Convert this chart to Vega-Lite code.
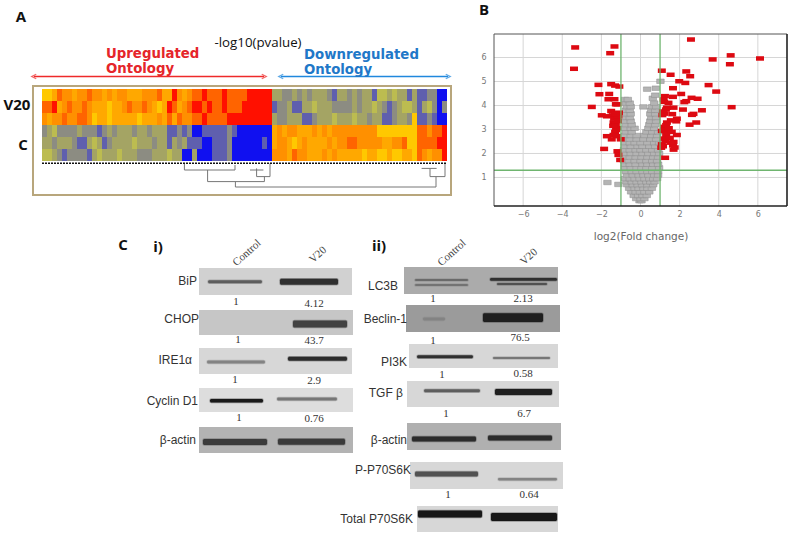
{"$schema":"https://vega.github.io/schema/vega-lite/v6.json","width":800,"height":540,"padding":0,"autosize":{"type":"none"},"background":"white","config":{"view":{"stroke":null}},
"resolve":{"scale":{"x":"independent","y":"independent","color":"independent","stroke":"independent","shape":"independent"},"axis":{"x":"independent","y":"independent"}},
"datasets":{
"heat":[
{"c":0,"r":0,"v":5},{"c":1,"r":0,"v":5},{"c":2,"r":0,"v":6},{"c":3,"r":0,"v":8},{"c":4,"r":0,"v":7},{"c":5,"r":0,"v":7},{"c":6,"r":0,"v":6},{"c":7,"r":0,"v":7},{"c":8,"r":0,"v":7},{"c":9,"r":0,"v":8},{"c":10,"r":0,"v":7},{"c":11,"r":0,"v":7},{"c":12,"r":0,"v":6},{"c":13,"r":0,"v":7},{"c":14,"r":0,"v":6},{"c":15,"r":0,"v":7},{"c":16,"r":0,"v":7},{"c":17,"r":0,"v":6},{"c":18,"r":0,"v":6},{"c":19,"r":0,"v":6},{"c":20,"r":0,"v":7},{"c":21,"r":0,"v":7},{"c":22,"r":0,"v":7},{"c":23,"r":0,"v":8},{"c":24,"r":0,"v":6},{"c":25,"r":0,"v":6},{"c":26,"r":0,"v":9},{"c":27,"r":0,"v":7},{"c":28,"r":0,"v":6},{"c":29,"r":0,"v":7},{"c":30,"r":0,"v":8},{"c":31,"r":0,"v":8},{"c":32,"r":0,"v":9},{"c":33,"r":0,"v":8},{"c":34,"r":0,"v":8},{"c":35,"r":0,"v":8},{"c":36,"r":0,"v":9},{"c":37,"r":0,"v":8},{"c":38,"r":0,"v":8},{"c":39,"r":0,"v":8},{"c":40,"r":0,"v":8},{"c":41,"r":0,"v":9},{"c":42,"r":0,"v":9},{"c":43,"r":0,"v":9},{"c":44,"r":0,"v":9},{"c":45,"r":0,"v":9},{"c":46,"r":0,"v":3},{"c":47,"r":0,"v":3},{"c":48,"r":0,"v":2},{"c":49,"r":0,"v":2},{"c":50,"r":0,"v":3},{"c":51,"r":0,"v":2},{"c":52,"r":0,"v":3},{"c":53,"r":0,"v":2},{"c":54,"r":0,"v":3},{"c":55,"r":0,"v":3},{"c":56,"r":0,"v":3},{"c":57,"r":0,"v":2},{"c":58,"r":0,"v":1},{"c":59,"r":0,"v":3},{"c":60,"r":0,"v":3},{"c":61,"r":0,"v":2},{"c":62,"r":0,"v":3},{"c":63,"r":0,"v":2},{"c":64,"r":0,"v":3},{"c":65,"r":0,"v":3},{"c":66,"r":0,"v":1},{"c":67,"r":0,"v":4},{"c":68,"r":0,"v":4},{"c":69,"r":0,"v":3},{"c":70,"r":0,"v":4},{"c":71,"r":0,"v":3},{"c":72,"r":0,"v":3},{"c":73,"r":0,"v":1},{"c":74,"r":0,"v":3},{"c":75,"r":0,"v":1},{"c":76,"r":0,"v":1},{"c":77,"r":0,"v":2},{"c":78,"r":0,"v":2},{"c":79,"r":0,"v":0},{"c":80,"r":0,"v":0},
{"c":0,"r":1,"v":8},{"c":1,"r":1,"v":8},{"c":2,"r":1,"v":9},{"c":3,"r":1,"v":6},{"c":4,"r":1,"v":7},{"c":5,"r":1,"v":8},{"c":6,"r":1,"v":7},{"c":7,"r":1,"v":7},{"c":8,"r":1,"v":8},{"c":9,"r":1,"v":7},{"c":10,"r":1,"v":6},{"c":11,"r":1,"v":6},{"c":12,"r":1,"v":6},{"c":13,"r":1,"v":5},{"c":14,"r":1,"v":6},{"c":15,"r":1,"v":6},{"c":16,"r":1,"v":7},{"c":17,"r":1,"v":8},{"c":18,"r":1,"v":7},{"c":19,"r":1,"v":7},{"c":20,"r":1,"v":8},{"c":21,"r":1,"v":7},{"c":22,"r":1,"v":6},{"c":23,"r":1,"v":5},{"c":24,"r":1,"v":6},{"c":25,"r":1,"v":9},{"c":26,"r":1,"v":8},{"c":27,"r":1,"v":6},{"c":28,"r":1,"v":7},{"c":29,"r":1,"v":8},{"c":30,"r":1,"v":9},{"c":31,"r":1,"v":9},{"c":32,"r":1,"v":8},{"c":33,"r":1,"v":9},{"c":34,"r":1,"v":8},{"c":35,"r":1,"v":8},{"c":36,"r":1,"v":9},{"c":37,"r":1,"v":8},{"c":38,"r":1,"v":8},{"c":39,"r":1,"v":8},{"c":40,"r":1,"v":9},{"c":41,"r":1,"v":9},{"c":42,"r":1,"v":9},{"c":43,"r":1,"v":9},{"c":44,"r":1,"v":9},{"c":45,"r":1,"v":9},{"c":46,"r":1,"v":1},{"c":47,"r":1,"v":2},{"c":48,"r":1,"v":2},{"c":49,"r":1,"v":3},{"c":50,"r":1,"v":1},{"c":51,"r":1,"v":1},{"c":52,"r":1,"v":3},{"c":53,"r":1,"v":3},{"c":54,"r":1,"v":4},{"c":55,"r":1,"v":3},{"c":56,"r":1,"v":3},{"c":57,"r":1,"v":3},{"c":58,"r":1,"v":2},{"c":59,"r":1,"v":2},{"c":60,"r":1,"v":2},{"c":61,"r":1,"v":2},{"c":62,"r":1,"v":3},{"c":63,"r":1,"v":2},{"c":64,"r":1,"v":3},{"c":65,"r":1,"v":3},{"c":66,"r":1,"v":4},{"c":67,"r":1,"v":3},{"c":68,"r":1,"v":2},{"c":69,"r":1,"v":1},{"c":70,"r":1,"v":2},{"c":71,"r":1,"v":3},{"c":72,"r":1,"v":4},{"c":73,"r":1,"v":4},{"c":74,"r":1,"v":3},{"c":75,"r":1,"v":1},{"c":76,"r":1,"v":3},{"c":77,"r":1,"v":4},{"c":78,"r":1,"v":2},{"c":79,"r":1,"v":0},{"c":80,"r":1,"v":2},
{"c":0,"r":2,"v":7},{"c":1,"r":2,"v":6},{"c":2,"r":2,"v":7},{"c":3,"r":2,"v":7},{"c":4,"r":2,"v":8},{"c":5,"r":2,"v":7},{"c":6,"r":2,"v":7},{"c":7,"r":2,"v":8},{"c":8,"r":2,"v":8},{"c":9,"r":2,"v":7},{"c":10,"r":2,"v":5},{"c":11,"r":2,"v":6},{"c":12,"r":2,"v":6},{"c":13,"r":2,"v":5},{"c":14,"r":2,"v":6},{"c":15,"r":2,"v":6},{"c":16,"r":2,"v":6},{"c":17,"r":2,"v":6},{"c":18,"r":2,"v":6},{"c":19,"r":2,"v":5},{"c":20,"r":2,"v":6},{"c":21,"r":2,"v":6},{"c":22,"r":2,"v":6},{"c":23,"r":2,"v":7},{"c":24,"r":2,"v":6},{"c":25,"r":2,"v":8},{"c":26,"r":2,"v":6},{"c":27,"r":2,"v":8},{"c":28,"r":2,"v":7},{"c":29,"r":2,"v":7},{"c":30,"r":2,"v":8},{"c":31,"r":2,"v":8},{"c":32,"r":2,"v":9},{"c":33,"r":2,"v":8},{"c":34,"r":2,"v":8},{"c":35,"r":2,"v":8},{"c":36,"r":2,"v":8},{"c":37,"r":2,"v":9},{"c":38,"r":2,"v":9},{"c":39,"r":2,"v":9},{"c":40,"r":2,"v":9},{"c":41,"r":2,"v":9},{"c":42,"r":2,"v":9},{"c":43,"r":2,"v":9},{"c":44,"r":2,"v":9},{"c":45,"r":2,"v":9},{"c":46,"r":2,"v":3},{"c":47,"r":2,"v":2},{"c":48,"r":2,"v":2},{"c":49,"r":2,"v":3},{"c":50,"r":2,"v":3},{"c":51,"r":2,"v":3},{"c":52,"r":2,"v":1},{"c":53,"r":2,"v":1},{"c":54,"r":2,"v":2},{"c":55,"r":2,"v":3},{"c":56,"r":2,"v":3},{"c":57,"r":2,"v":3},{"c":58,"r":2,"v":4},{"c":59,"r":2,"v":3},{"c":60,"r":2,"v":3},{"c":61,"r":2,"v":3},{"c":62,"r":2,"v":4},{"c":63,"r":2,"v":3},{"c":64,"r":2,"v":3},{"c":65,"r":2,"v":2},{"c":66,"r":2,"v":3},{"c":67,"r":2,"v":3},{"c":68,"r":2,"v":1},{"c":69,"r":2,"v":1},{"c":70,"r":2,"v":2},{"c":71,"r":2,"v":3},{"c":72,"r":2,"v":3},{"c":73,"r":2,"v":2},{"c":74,"r":2,"v":5},{"c":75,"r":2,"v":1},{"c":76,"r":2,"v":1},{"c":77,"r":2,"v":2},{"c":78,"r":2,"v":1},{"c":79,"r":2,"v":0},{"c":80,"r":2,"v":0},
{"c":0,"r":3,"v":2},{"c":1,"r":3,"v":3},{"c":2,"r":3,"v":4},{"c":3,"r":3,"v":2},{"c":4,"r":3,"v":2},{"c":5,"r":3,"v":2},{"c":6,"r":3,"v":2},{"c":7,"r":3,"v":3},{"c":8,"r":3,"v":2},{"c":9,"r":3,"v":2},{"c":10,"r":3,"v":2},{"c":11,"r":3,"v":1},{"c":12,"r":3,"v":2},{"c":13,"r":3,"v":3},{"c":14,"r":3,"v":2},{"c":15,"r":3,"v":3},{"c":16,"r":3,"v":3},{"c":17,"r":3,"v":3},{"c":18,"r":3,"v":2},{"c":19,"r":3,"v":3},{"c":20,"r":3,"v":3},{"c":21,"r":3,"v":2},{"c":22,"r":3,"v":3},{"c":23,"r":3,"v":3},{"c":24,"r":3,"v":3},{"c":25,"r":3,"v":1},{"c":26,"r":3,"v":1},{"c":27,"r":3,"v":2},{"c":28,"r":3,"v":1},{"c":29,"r":3,"v":2},{"c":30,"r":3,"v":0},{"c":31,"r":3,"v":0},{"c":32,"r":3,"v":1},{"c":33,"r":3,"v":1},{"c":34,"r":3,"v":1},{"c":35,"r":3,"v":1},{"c":36,"r":3,"v":1},{"c":37,"r":3,"v":2},{"c":38,"r":3,"v":1},{"c":39,"r":3,"v":0},{"c":40,"r":3,"v":0},{"c":41,"r":3,"v":0},{"c":42,"r":3,"v":0},{"c":43,"r":3,"v":0},{"c":44,"r":3,"v":0},{"c":45,"r":3,"v":0},{"c":46,"r":3,"v":6},{"c":47,"r":3,"v":7},{"c":48,"r":3,"v":6},{"c":49,"r":3,"v":7},{"c":50,"r":3,"v":7},{"c":51,"r":3,"v":6},{"c":52,"r":3,"v":6},{"c":53,"r":3,"v":6},{"c":54,"r":3,"v":7},{"c":55,"r":3,"v":6},{"c":56,"r":3,"v":7},{"c":57,"r":3,"v":6},{"c":58,"r":3,"v":7},{"c":59,"r":3,"v":7},{"c":60,"r":3,"v":7},{"c":61,"r":3,"v":7},{"c":62,"r":3,"v":7},{"c":63,"r":3,"v":7},{"c":64,"r":3,"v":7},{"c":65,"r":3,"v":7},{"c":66,"r":3,"v":7},{"c":67,"r":3,"v":5},{"c":68,"r":3,"v":5},{"c":69,"r":3,"v":5},{"c":70,"r":3,"v":5},{"c":71,"r":3,"v":5},{"c":72,"r":3,"v":5},{"c":73,"r":3,"v":5},{"c":74,"r":3,"v":5},{"c":75,"r":3,"v":8},{"c":76,"r":3,"v":8},{"c":77,"r":3,"v":7},{"c":78,"r":3,"v":8},{"c":79,"r":3,"v":8},{"c":80,"r":3,"v":9},
{"c":0,"r":4,"v":3},{"c":1,"r":4,"v":3},{"c":2,"r":4,"v":2},{"c":3,"r":4,"v":3},{"c":4,"r":4,"v":3},{"c":5,"r":4,"v":3},{"c":6,"r":4,"v":2},{"c":7,"r":4,"v":1},{"c":8,"r":4,"v":1},{"c":9,"r":4,"v":3},{"c":10,"r":4,"v":4},{"c":11,"r":4,"v":3},{"c":12,"r":4,"v":1},{"c":13,"r":4,"v":2},{"c":14,"r":4,"v":3},{"c":15,"r":4,"v":3},{"c":16,"r":4,"v":3},{"c":17,"r":4,"v":3},{"c":18,"r":4,"v":4},{"c":19,"r":4,"v":3},{"c":20,"r":4,"v":3},{"c":21,"r":4,"v":3},{"c":22,"r":4,"v":2},{"c":23,"r":4,"v":3},{"c":24,"r":4,"v":3},{"c":25,"r":4,"v":1},{"c":26,"r":4,"v":3},{"c":27,"r":4,"v":2},{"c":28,"r":4,"v":3},{"c":29,"r":4,"v":1},{"c":30,"r":4,"v":1},{"c":31,"r":4,"v":1},{"c":32,"r":4,"v":0},{"c":33,"r":4,"v":0},{"c":34,"r":4,"v":1},{"c":35,"r":4,"v":1},{"c":36,"r":4,"v":1},{"c":37,"r":4,"v":2},{"c":38,"r":4,"v":0},{"c":39,"r":4,"v":0},{"c":40,"r":4,"v":0},{"c":41,"r":4,"v":0},{"c":42,"r":4,"v":0},{"c":43,"r":4,"v":0},{"c":44,"r":4,"v":1},{"c":45,"r":4,"v":0},{"c":46,"r":4,"v":6},{"c":47,"r":4,"v":7},{"c":48,"r":4,"v":7},{"c":49,"r":4,"v":6},{"c":50,"r":4,"v":5},{"c":51,"r":4,"v":6},{"c":52,"r":4,"v":7},{"c":53,"r":4,"v":6},{"c":54,"r":4,"v":6},{"c":55,"r":4,"v":6},{"c":56,"r":4,"v":6},{"c":57,"r":4,"v":7},{"c":58,"r":4,"v":6},{"c":59,"r":4,"v":7},{"c":60,"r":4,"v":7},{"c":61,"r":4,"v":8},{"c":62,"r":4,"v":8},{"c":63,"r":4,"v":7},{"c":64,"r":4,"v":7},{"c":65,"r":4,"v":7},{"c":66,"r":4,"v":7},{"c":67,"r":4,"v":7},{"c":68,"r":4,"v":6},{"c":69,"r":4,"v":6},{"c":70,"r":4,"v":7},{"c":71,"r":4,"v":7},{"c":72,"r":4,"v":8},{"c":73,"r":4,"v":5},{"c":74,"r":4,"v":5},{"c":75,"r":4,"v":8},{"c":76,"r":4,"v":8},{"c":77,"r":4,"v":8},{"c":78,"r":4,"v":8},{"c":79,"r":4,"v":9},{"c":80,"r":4,"v":9},
{"c":0,"r":5,"v":4},{"c":1,"r":5,"v":4},{"c":2,"r":5,"v":3},{"c":3,"r":5,"v":2},{"c":4,"r":5,"v":1},{"c":5,"r":5,"v":2},{"c":6,"r":5,"v":2},{"c":7,"r":5,"v":2},{"c":8,"r":5,"v":2},{"c":9,"r":5,"v":1},{"c":10,"r":5,"v":3},{"c":11,"r":5,"v":4},{"c":12,"r":5,"v":3},{"c":13,"r":5,"v":3},{"c":14,"r":5,"v":3},{"c":15,"r":5,"v":4},{"c":16,"r":5,"v":3},{"c":17,"r":5,"v":3},{"c":18,"r":5,"v":3},{"c":19,"r":5,"v":2},{"c":20,"r":5,"v":2},{"c":21,"r":5,"v":2},{"c":22,"r":5,"v":3},{"c":23,"r":5,"v":3},{"c":24,"r":5,"v":3},{"c":25,"r":5,"v":4},{"c":26,"r":5,"v":3},{"c":27,"r":5,"v":3},{"c":28,"r":5,"v":0},{"c":29,"r":5,"v":0},{"c":30,"r":5,"v":3},{"c":31,"r":5,"v":0},{"c":32,"r":5,"v":0},{"c":33,"r":5,"v":0},{"c":34,"r":5,"v":1},{"c":35,"r":5,"v":1},{"c":36,"r":5,"v":1},{"c":37,"r":5,"v":2},{"c":38,"r":5,"v":0},{"c":39,"r":5,"v":0},{"c":40,"r":5,"v":0},{"c":41,"r":5,"v":0},{"c":42,"r":5,"v":0},{"c":43,"r":5,"v":0},{"c":44,"r":5,"v":0},{"c":45,"r":5,"v":0},{"c":46,"r":5,"v":7},{"c":47,"r":5,"v":7},{"c":48,"r":5,"v":7},{"c":49,"r":5,"v":6},{"c":50,"r":5,"v":8},{"c":51,"r":5,"v":7},{"c":52,"r":5,"v":7},{"c":53,"r":5,"v":6},{"c":54,"r":5,"v":6},{"c":55,"r":5,"v":6},{"c":56,"r":5,"v":7},{"c":57,"r":5,"v":6},{"c":58,"r":5,"v":7},{"c":59,"r":5,"v":6},{"c":60,"r":5,"v":6},{"c":61,"r":5,"v":6},{"c":62,"r":5,"v":6},{"c":63,"r":5,"v":6},{"c":64,"r":5,"v":5},{"c":65,"r":5,"v":6},{"c":66,"r":5,"v":6},{"c":67,"r":5,"v":5},{"c":68,"r":5,"v":5},{"c":69,"r":5,"v":6},{"c":70,"r":5,"v":5},{"c":71,"r":5,"v":5},{"c":72,"r":5,"v":6},{"c":73,"r":5,"v":6},{"c":74,"r":5,"v":5},{"c":75,"r":5,"v":8},{"c":76,"r":5,"v":7},{"c":77,"r":5,"v":6},{"c":78,"r":5,"v":7},{"c":79,"r":5,"v":7},{"c":80,"r":5,"v":9}
],
"grey":[{"x":-0.05,"y":0.03},{"x":0.05,"y":0.03},{"x":-0.22,"y":0.12},{"x":0,"y":0.12},{"x":0.2,"y":0.12},{"x":-0.35,"y":0.25},{"x":-0.12,"y":0.25},{"x":0.1,"y":0.25},{"x":0.32,"y":0.25},{"x":-0.48,"y":0.4},{"x":-0.25,"y":0.4},{"x":-0.03,"y":0.4},{"x":0.2,"y":0.4},{"x":0.45,"y":0.4},{"x":-0.58,"y":0.55},{"x":-0.3,"y":0.55},{"x":-0.1,"y":0.55},{"x":0.15,"y":0.55},{"x":0.35,"y":0.55},{"x":0.58,"y":0.55},{"x":-0.68,"y":0.7},{"x":-0.4,"y":0.7},{"x":-0.15,"y":0.7},{"x":0.08,"y":0.7},{"x":0.35,"y":0.7},{"x":0.65,"y":0.7},{"x":-1.13,"y":0.71},{"x":-0.72,"y":0.82},{"x":-0.45,"y":0.82},{"x":-0.2,"y":0.82},{"x":0.05,"y":0.82},{"x":0.3,"y":0.82},{"x":0.5,"y":0.82},{"x":0.72,"y":0.82},{"x":-1.69,"y":0.79},{"x":-0.8,"y":0.95},{"x":-0.55,"y":0.95},{"x":-0.3,"y":0.95},{"x":-0.05,"y":0.95},{"x":0.2,"y":0.95},{"x":0.45,"y":0.95},{"x":0.65,"y":0.95},{"x":0.85,"y":0.95},{"x":-0.7,"y":1.1},{"x":-0.4,"y":1.1},{"x":-0.1,"y":1.1},{"x":0.15,"y":1.1},{"x":0.4,"y":1.1},{"x":0.7,"y":1.1},{"x":0.9,"y":1.1},{"x":-0.75,"y":1.25},{"x":-0.45,"y":1.25},{"x":-0.2,"y":1.25},{"x":0.1,"y":1.25},{"x":0.35,"y":1.25},{"x":0.6,"y":1.25},{"x":0.9,"y":1.25},{"x":-0.8,"y":1.4},{"x":-0.5,"y":1.4},{"x":-0.2,"y":1.4},{"x":0.05,"y":1.4},{"x":0.3,"y":1.4},{"x":0.6,"y":1.4},{"x":0.95,"y":1.4},{"x":-0.8,"y":1.55},{"x":-0.55,"y":1.55},{"x":-0.25,"y":1.55},{"x":0.1,"y":1.55},{"x":0.35,"y":1.55},{"x":0.65,"y":1.55},{"x":0.9,"y":1.55},{"x":-0.85,"y":1.7},{"x":-0.6,"y":1.7},{"x":-0.3,"y":1.7},{"x":0,"y":1.7},{"x":0.3,"y":1.7},{"x":0.6,"y":1.7},{"x":0.85,"y":1.7},{"x":-0.85,"y":1.85},{"x":-0.55,"y":1.85},{"x":-0.25,"y":1.85},{"x":0.05,"y":1.85},{"x":0.35,"y":1.85},{"x":0.65,"y":1.85},{"x":0.9,"y":1.85},{"x":-0.8,"y":2},{"x":-0.5,"y":2},{"x":-0.2,"y":2},{"x":0.1,"y":2},{"x":0.4,"y":2},{"x":0.7,"y":2},{"x":0.95,"y":2},{"x":-0.85,"y":2.15},{"x":-0.55,"y":2.15},{"x":-0.25,"y":2.15},{"x":0,"y":2.15},{"x":0.3,"y":2.15},{"x":0.6,"y":2.15},{"x":0.9,"y":2.15},{"x":-0.8,"y":2.3},{"x":-0.5,"y":2.3},{"x":-0.15,"y":2.3},{"x":0.1,"y":2.3},{"x":0.45,"y":2.3},{"x":0.75,"y":2.3},{"x":-0.8,"y":2.45},{"x":-0.55,"y":2.45},{"x":-0.3,"y":2.45},{"x":0,"y":2.45},{"x":0.35,"y":2.45},{"x":0.7,"y":2.45},{"x":0.95,"y":2.45},{"x":-0.85,"y":2.6},{"x":-0.55,"y":2.6},{"x":-0.2,"y":2.6},{"x":0.15,"y":2.6},{"x":0.5,"y":2.6},{"x":0.8,"y":2.6},{"x":-0.8,"y":2.75},{"x":-0.5,"y":2.75},{"x":-0.2,"y":2.75},{"x":0.2,"y":2.75},{"x":0.55,"y":2.75},{"x":0.85,"y":2.75},{"x":-0.75,"y":2.9},{"x":-0.45,"y":2.9},{"x":0.3,"y":2.9},{"x":0.6,"y":2.9},{"x":0.9,"y":2.9},{"x":-0.8,"y":3.05},{"x":-0.5,"y":3.05},{"x":-0.3,"y":3.05},{"x":0.4,"y":3.05},{"x":0.7,"y":3.05},{"x":-0.75,"y":3.2},{"x":-0.45,"y":3.2},{"x":0.45,"y":3.2},{"x":0.75,"y":3.2},{"x":-0.8,"y":3.35},{"x":-0.5,"y":3.35},{"x":0.5,"y":3.35},{"x":0.8,"y":3.35},{"x":-0.8,"y":3.5},{"x":-0.55,"y":3.5},{"x":0.55,"y":3.5},{"x":0.8,"y":3.5},{"x":-0.75,"y":3.65},{"x":-0.5,"y":3.65},{"x":0.5,"y":3.65},{"x":0.75,"y":3.65},{"x":-0.75,"y":3.8},{"x":-0.55,"y":3.8},{"x":0.55,"y":3.8},{"x":0.75,"y":3.8},{"x":-0.7,"y":3.95},{"x":-0.5,"y":3.95},{"x":0.15,"y":3.94},{"x":0.6,"y":3.95},{"x":0.8,"y":3.95},{"x":-0.75,"y":4.1},{"x":-0.55,"y":4.1},{"x":0.7,"y":4.1},{"x":-0.8,"y":4.25},{"x":-0.65,"y":4.25},{"x":0.63,"y":4.3},{"x":1.02,"y":5.01},{"x":0.34,"y":4.68},{"x":0.78,"y":4.72},{"x":0.75,"y":4.43}],
"red":[{"x":2.58,"y":6.75},{"x":-3.34,"y":6.42},{"x":-1.33,"y":6.46},{"x":-1.55,"y":6.18},{"x":-3.4,"y":5.53},{"x":4.61,"y":6.09},{"x":3.69,"y":5.92},{"x":4.57,"y":5.72},{"x":6.11,"y":5.96},{"x":1.09,"y":5.45},{"x":1.54,"y":5.28},{"x":2.34,"y":5.42},{"x":2.54,"y":5.22},{"x":1.98,"y":5.01},{"x":2.29,"y":4.94},{"x":3.48,"y":4.85},{"x":1.66,"y":4.72},{"x":3.87,"y":4.58},{"x":2.08,"y":4.48},{"x":2.61,"y":4.32},{"x":2.92,"y":4.28},{"x":2.34,"y":4.18},{"x":2.24,"y":4.14},{"x":4.66,"y":3.93},{"x":3.14,"y":3.8},{"x":2.17,"y":3.83},{"x":2.71,"y":3.65},{"x":2.63,"y":3.61},{"x":2.85,"y":3.29},{"x":2.51,"y":3.2},{"x":1.25,"y":4.39},{"x":1.66,"y":4.36},{"x":1.18,"y":4.25},{"x":1.21,"y":4.15},{"x":1.43,"y":4.11},{"x":1.69,"y":3.91},{"x":1.35,"y":3.91},{"x":1.3,"y":3.83},{"x":1.21,"y":3.66},{"x":1.62,"y":3.64},{"x":1.86,"y":3.45},{"x":1.55,"y":3.38},{"x":1.83,"y":3.34},{"x":1.35,"y":3.29},{"x":1.21,"y":3.11},{"x":1.31,"y":3.18},{"x":1.09,"y":2.94},{"x":1.35,"y":2.9},{"x":1.6,"y":2.9},{"x":1.86,"y":2.77},{"x":1.31,"y":2.76},{"x":1.21,"y":2.62},{"x":1.69,"y":2.48},{"x":1.09,"y":2.38},{"x":1.66,"y":2.34},{"x":1.69,"y":2.16},{"x":1.06,"y":2.24},{"x":1.26,"y":1.82},{"x":1.15,"y":3.75},{"x":1.5,"y":2.65},{"x":1.2,"y":3},{"x":1.45,"y":3.05},{"x":1.12,"y":3.6},{"x":1.28,"y":2.5},{"x":1.15,"y":2.3},{"x":1.55,"y":2.45},{"x":1.75,"y":2.25},{"x":-2.15,"y":4.86},{"x":-1.5,"y":4.89},{"x":-1.3,"y":4.83},{"x":-1.08,"y":4.79},{"x":-2.1,"y":4.47},{"x":-1.6,"y":4.48},{"x":-1.64,"y":4.26},{"x":-1.33,"y":4.26},{"x":-1.26,"y":4.05},{"x":-2.49,"y":3.94},{"x":-1.5,"y":3.77},{"x":-1.98,"y":3.59},{"x":-1.72,"y":3.55},{"x":-1.42,"y":3.59},{"x":-1.13,"y":3.55},{"x":-1.35,"y":3.45},{"x":-1.2,"y":3.5},{"x":-1.38,"y":3.29},{"x":-1.26,"y":3.22},{"x":-1.15,"y":3.35},{"x":-1.2,"y":3.05},{"x":-1.3,"y":2.9},{"x":-1.38,"y":2.77},{"x":-1.72,"y":2.72},{"x":-1.21,"y":2.72},{"x":-1.47,"y":2.59},{"x":-1.01,"y":2.59},{"x":-1.25,"y":2.98},{"x":-1.4,"y":3.15},{"x":-1.1,"y":3.7},{"x":-1.3,"y":3.65},{"x":-1.18,"y":4.05},{"x":-1.86,"y":2.19},{"x":-1.18,"y":2.09},{"x":-1.13,"y":1.94},{"x":-1.04,"y":1.73}],
"vlines":[{"k":"grid","x":-6,"x2":-6,"y":-0.19,"y2":6.98},{"k":"grid","x":-4,"x2":-4,"y":-0.19,"y2":6.98},{"k":"grid","x":-2,"x2":-2,"y":-0.19,"y2":6.98},{"k":"grid","x":0,"x2":0,"y":-0.19,"y2":6.98},{"k":"grid","x":2,"x2":2,"y":-0.19,"y2":6.98},{"k":"grid","x":4,"x2":4,"y":-0.19,"y2":6.98},{"k":"grid","x":6,"x2":6,"y":-0.19,"y2":6.98},{"k":"grid","x":-7.49,"x2":7.49,"y":1,"y2":1},{"k":"grid","x":-7.49,"x2":7.49,"y":2,"y2":2},{"k":"grid","x":-7.49,"x2":7.49,"y":3,"y2":3},{"k":"grid","x":-7.49,"x2":7.49,"y":4,"y2":4},{"k":"grid","x":-7.49,"x2":7.49,"y":5,"y2":5},{"k":"grid","x":-7.49,"x2":7.49,"y":6,"y2":6},{"k":"green","x":-1,"x2":-1,"y":-0.19,"y2":6.98},{"k":"green","x":1,"x2":1,"y":-0.19,"y2":6.98},{"k":"green","x":-7.49,"x2":7.49,"y":1.3,"y2":1.3},{"k":"thin","x":-7.49,"x2":7.49,"y":6.98,"y2":6.98},{"k":"thin","x":-7.49,"x2":-7.49,"y":-0.19,"y2":6.98},{"k":"thick","x":-7.49,"x2":7.49,"y":-0.19,"y2":-0.19},{"k":"thick","x":7.49,"x2":7.49,"y":-0.19,"y2":6.98}],
"blotbg":[{"x":99.5,"x2":176,"y":134,"y2":147.5,"d":0.16},{"x":99.5,"x2":176.5,"y":155,"y2":167.5,"d":0.2},{"x":99.5,"x2":176,"y":174,"y2":187,"d":0.14},{"x":99.5,"x2":176.5,"y":194,"y2":206,"d":0.12},{"x":99.5,"x2":176.5,"y":213.5,"y2":226.5,"d":0.27},{"x":202,"x2":279,"y":133.5,"y2":147,"d":0.3},{"x":203,"x2":280,"y":152.5,"y2":166,"d":0.36},{"x":204.5,"x2":279,"y":172,"y2":184,"d":0.14},{"x":203.5,"x2":279.5,"y":190.5,"y2":203.5,"d":0.14},{"x":203.5,"x2":280.5,"y":211.5,"y2":225,"d":0.28},{"x":205,"x2":281.5,"y":231,"y2":244.5,"d":0.14},{"x":208.5,"x2":279,"y":253,"y2":266,"d":0.14}],
"bands":[{"x":104,"x2":131,"y":140.1,"y2":141.6,"d":0.6},{"x":140,"x2":169,"y":139.4,"y2":142.4,"d":0.8},{"x":146.5,"x2":173.5,"y":160.2,"y2":163.8,"d":0.72},{"x":103.5,"x2":132.5,"y":180.2,"y2":181.7,"d":0.45},{"x":144,"x2":173.5,"y":178.4,"y2":180.4,"d":0.82},{"x":105,"x2":131.5,"y":199.5,"y2":201.2,"d":0.9},{"x":138.5,"x2":168.5,"y":198.7,"y2":200.2,"d":0.5},{"x":101.5,"x2":133.5,"y":219.5,"y2":222.5,"d":0.75},{"x":139,"x2":172.5,"y":219.4,"y2":222.4,"d":0.75},{"x":207.5,"x2":234,"y":139.6,"y2":140.4,"d":0.6},{"x":207.5,"x2":234,"y":142.1,"y2":142.9,"d":0.55},{"x":245,"x2":278.5,"y":139,"y2":140.4,"d":0.8},{"x":248.5,"x2":273.5,"y":141.5,"y2":142.5,"d":0.65},{"x":211.5,"x2":222.5,"y":158.8,"y2":160.2,"d":0.45},{"x":241.5,"x2":271.5,"y":156.6,"y2":161,"d":0.88},{"x":208.5,"x2":236.5,"y":177.6,"y2":179.1,"d":0.8},{"x":246.5,"x2":275,"y":178.5,"y2":179.5,"d":0.5},{"x":212,"x2":240,"y":194.6,"y2":196.1,"d":0.6},{"x":247.5,"x2":276,"y":194.5,"y2":197.5,"d":0.88},{"x":206,"x2":238,"y":218.3,"y2":220.8,"d":0.82},{"x":244,"x2":276,"y":217.8,"y2":220.3,"d":0.82},{"x":207.5,"x2":239,"y":235.8,"y2":238.2,"d":0.65},{"x":249,"x2":278.5,"y":239,"y2":240.2,"d":0.45},{"x":209,"x2":241,"y":255.2,"y2":258.8,"d":0.92},{"x":245.5,"x2":278.5,"y":256.5,"y2":260.5,"d":0.92}],
"dendro":[{"x":117.7,"x2":218,"y":93.5,"y2":93.5},{"x":117.7,"x2":117.7,"y":90.8,"y2":93.5},{"x":218,"x2":218,"y":88.3,"y2":93.5},{"x":103.8,"x2":132.2,"y":90.8,"y2":90.8},{"x":103.8,"x2":103.8,"y":85,"y2":90.8},{"x":132.2,"x2":132.2,"y":88.3,"y2":90.8},{"x":92.2,"x2":117.5,"y":85,"y2":85},{"x":92.2,"x2":92.2,"y":81.7,"y2":85},{"x":117.5,"x2":117.5,"y":82.5,"y2":85},{"x":128.3,"x2":135,"y":88.3,"y2":88.3},{"x":135,"x2":135,"y":81.7,"y2":88.3},{"x":128.3,"x2":128.3,"y":84.2,"y2":88.3},{"x":125,"x2":131.7,"y":85,"y2":85},{"x":215,"x2":222.5,"y":88.3,"y2":88.3},{"x":215,"x2":215,"y":84.2,"y2":88.3},{"x":222.5,"x2":222.5,"y":81.7,"y2":88.3},{"x":210.8,"x2":218.3,"y":84.2,"y2":84.2}],
"arrows":[{"g":"up","x":17,"x2":132,"y":38.25,"y2":38.25},{"g":"down","x":140.5,"x2":224,"y":38.25,"y2":38.25}],
"heads":[{"g":"up","d":"l","x":17,"y":38.25},{"g":"up","d":"r","x":132,"y":38.25},{"g":"down","d":"l","x":140.5,"y":38.25},{"g":"down","d":"r","x":224,"y":38.25}]
},
"layer":[
{"data":{"name":"heat"},"mark":{"type":"rect","strokeWidth":0},"encoding":{"x":{"field":"c","type":"ordinal","axis":null,"scale":{"range":[42,447],"paddingInner":0,"paddingOuter":0}},"y":{"field":"r","type":"ordinal","axis":null,"scale":{"range":[89,161],"paddingInner":0,"paddingOuter":0}},"color":{"field":"v","type":"quantitative","legend":null,"scale":{"domain":[0,1,2,3,4,5,6,7,8,9],"range":["#1010f0","#5f5fae","#8c8c82","#a4a464","#bcbc50","#ffc800","#ffa800","#ff9000","#ff6400","#ff1000"]}}}},
{"encoding":{"x":{"field":"x","type":"quantitative","title":"log2(Fold change)","scale":{"domain":[-7.49,7.49],"range":[494,787],"nice":false,"zero":false},"axis":{"orient":"bottom","offset":-334,"values":[-6,-4,-2,0,2,4,6],"grid":false,"domain":false,"ticks":false,"labelPadding":4,"labelFont":"DejaVu Sans","labelFontSize":8,"labelColor":"#777","titleFont":"DejaVu Sans","titleFontSize":10.5,"titleFontWeight":"normal","titleColor":"#666","titlePadding":13}},"y":{"field":"y","type":"quantitative","title":null,"scale":{"domain":[-0.19,6.98],"range":[206,34],"nice":false,"zero":false},"axis":{"orient":"left","offset":-494,"values":[1,2,3,4,5,6],"grid":false,"domain":false,"ticks":false,"labelPadding":8,"labelFont":"DejaVu Sans","labelFontSize":8,"labelColor":"#777"}}},
"layer":[
{"data":{"name":"vlines"},"transform":[{"filter":"datum.k=='grid'"}],"mark":{"type":"rule","color":"#d6d6d6","strokeWidth":1},"encoding":{"x2":{"field":"x2"},"y2":{"field":"y2"}}},
{"data":{"name":"grey"},"mark":{"type":"rect","width":7.5,"height":4.5,"fill":"#b4b4b4","stroke":"#8c8c8c","strokeWidth":0.5}},
{"data":{"name":"red"},"mark":{"type":"rect","width":8,"height":4.5,"fill":"#dd0a12"}},
{"data":{"name":"vlines"},"transform":[{"filter":"datum.k=='green'"}],"mark":{"type":"rule","color":"#6fb56f","strokeWidth":1.3},"encoding":{"x2":{"field":"x2"},"y2":{"field":"y2"}}},
{"data":{"name":"vlines"},"transform":[{"filter":"datum.k=='thin'"}],"mark":{"type":"rule","color":"#555","strokeWidth":1},"encoding":{"x2":{"field":"x2"},"y2":{"field":"y2"}}},
{"data":{"name":"vlines"},"transform":[{"filter":"datum.k=='thick'"}],"mark":{"type":"rule","color":"#222","strokeWidth":1.6},"encoding":{"x2":{"field":"x2"},"y2":{"field":"y2"}}}
]},
{"encoding":{"x":{"field":"x","type":"quantitative","axis":null,"scale":{"domain":[0,400],"range":[0,800],"nice":false,"zero":false}},"y":{"field":"y","type":"quantitative","axis":null,"scale":{"domain":[0,270],"range":[0,540],"nice":false,"zero":false}}},
"layer":[
{"data":{"name":"blotbg"},"mark":{"type":"rect"},"encoding":{"x2":{"field":"x2"},"y2":{"field":"y2"},"color":{"field":"d","type":"quantitative","legend":null,"scale":{"domain":[0,1],"range":["#ffffff","#000000"]}}}},
{"data":{"name":"bands"},"mark":{"type":"rect","cornerRadius":1.5,"strokeWidth":1.5,"strokeOpacity":0.35},"encoding":{"x2":{"field":"x2"},"y2":{"field":"y2"},"color":{"field":"d","type":"quantitative","legend":null,"scale":{"domain":[0,1],"range":["#ffffff","#000000"]}},"stroke":{"field":"d","type":"quantitative","legend":null,"scale":{"domain":[0,1],"range":["#ffffff","#000000"]}}}},
{"data":{"values":[{"x":16.5,"x2":225.5,"y":43,"y2":97.5}]},"mark":{"type":"rect","fill":null,"stroke":"#b8a67c","strokeWidth":2},"encoding":{"x2":{"field":"x2"},"y2":{"field":"y2"}}},
{"data":{"name":"dendro"},"mark":{"type":"rule","color":"#777","strokeWidth":1},"encoding":{"x2":{"field":"x2"},"y2":{"field":"y2"}}},
{"data":{"values":[{"x":21,"x2":223.5,"y":81.6,"y2":81.6}]},"mark":{"type":"rule","color":"#111","strokeWidth":1.6,"strokeDash":[2,1]},"encoding":{"x2":{"field":"x2"},"y2":{"field":"y2"}}},
{"data":{"name":"arrows"},"mark":{"type":"rule","strokeWidth":1.3},"encoding":{"x2":{"field":"x2"},"y2":{"field":"y2"},"color":{"field":"g","type":"nominal","legend":null,"scale":{"domain":["up","down"],"range":["#ee2a2a","#2088dd"]}}}},
{"data":{"name":"heads"},"mark":{"type":"point","filled":false,"size":20,"strokeWidth":1.3},"encoding":{"shape":{"field":"d","type":"nominal","legend":null,"scale":{"domain":["l","r"],"range":["M1,-1L-1,0L1,1","M-1,-1L1,0L-1,1"]}},"color":{"field":"g","type":"nominal","legend":null,"scale":{"domain":["up","down"],"range":["#ee2a2a","#2088dd"]}}}},
{"data":{"values":[{"t":"A","x":10.5,"y":8.5},{"t":"B","x":242,"y":5},{"t":"C","x":61.5,"y":122.5},{"t":"i)","x":79,"y":123.5},{"t":"ii)","x":189.5,"y":123},{"t":"V20","x":8.5,"y":52.5},{"t":"C","x":11.5,"y":72.5}]},"mark":{"type":"text","font":"Open Sans","fontWeight":"bold","fontSize":15,"color":"#111"},"encoding":{"text":{"field":"t"}}},
{"data":{"values":[{"t":"Upregulated","g":"up","x":53,"y":27},{"t":"Ontology","g":"up","x":53,"y":34.5},{"t":"Downregulated","g":"down","x":152,"y":27.5},{"t":"Ontology","g":"down","x":152,"y":35}]},"mark":{"type":"text","font":"DejaVu Sans","fontWeight":"bold","fontSize":13.3,"align":"left"},"encoding":{"text":{"field":"t"},"color":{"field":"g","type":"nominal","legend":null,"scale":{"domain":["up","down"],"range":["#e5252a","#1f78c8"]}}}},
{"data":{"values":[{"t":"-log10(pvalue)","x":129,"y":21.5}]},"mark":{"type":"text","font":"Open Sans","fontSize":13.3,"color":"#111"},"encoding":{"text":{"field":"t"}}},
{"data":{"values":[{"t":"BiP","x":98.5,"y":140.5},{"t":"CHOP","x":99.5,"y":159.5},{"t":"IRE1α","x":96,"y":180},{"t":"Cyclin D1","x":99,"y":200.5},{"t":"β-actin","x":98,"y":220},{"t":"LC3B","x":199,"y":143},{"t":"Beclin-1","x":203.5,"y":159.5},{"t":"PI3K","x":203.5,"y":181},{"t":"TGF  β","x":201.5,"y":196.5},{"t":"β-actin","x":203.5,"y":220},{"t":"P-P70S6K","x":205.5,"y":235},{"t":"Total P70S6K","x":206.5,"y":259.5}]},"mark":{"type":"text","font":"Liberation Sans","fontSize":12,"align":"right","color":"#333"},"encoding":{"text":{"field":"t"}}},
{"data":{"values":[{"t":"1","x":118,"y":151},{"t":"4.12","x":157,"y":152},{"t":"1","x":119,"y":170},{"t":"43.7","x":157,"y":170.5},{"t":"1","x":117.5,"y":190},{"t":"2.9","x":157,"y":190.5},{"t":"1","x":119.5,"y":209},{"t":"0.76","x":157,"y":209.5},{"t":"1","x":216.5,"y":149.5},{"t":"2.13","x":261.5,"y":149.5},{"t":"1","x":216.5,"y":170.5},{"t":"76.5","x":260,"y":169},{"t":"1","x":221,"y":187.5},{"t":"0.58","x":261.5,"y":187},{"t":"1","x":223,"y":207},{"t":"6.7","x":262,"y":207},{"t":"1","x":224,"y":247.5},{"t":"0.64","x":264.5,"y":247.5}]},"mark":{"type":"text","font":"Liberation Serif","fontSize":11,"color":"#333"},"encoding":{"text":{"field":"t"}}},
{"data":{"values":[{"t":"Control","x":123.5,"y":126.5},{"t":"V20","x":159,"y":127.5},{"t":"Control","x":226,"y":126.5},{"t":"V20","x":264.5,"y":128.5}]},"mark":{"type":"text","font":"Liberation Serif","fontSize":11,"color":"#444","angle":-42},"encoding":{"text":{"field":"t"}}}
]}
]}
